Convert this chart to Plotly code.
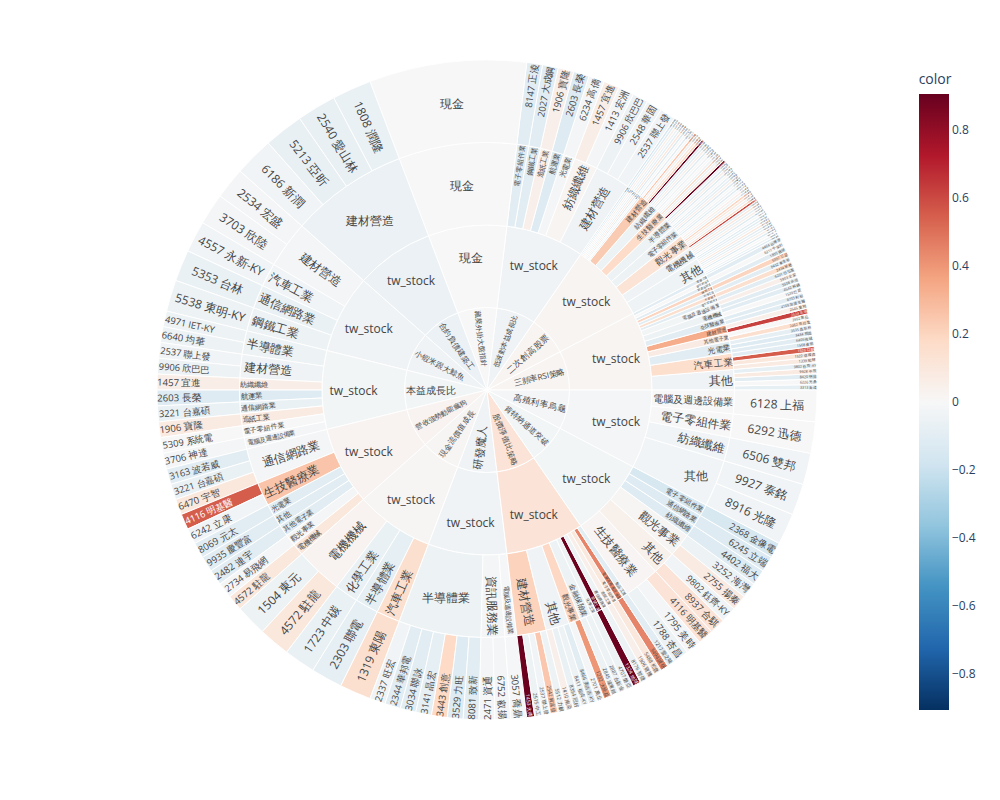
import plotly.graph_objects as go

# ---------------- data ----------------
strategies = ["三頻率RSI策略", "二次創高股票", "低波動本益成長比", "藏獒外掛大盤指針",
              "合約負債建築工", "小蝦米跟大鯨魚", "本益成長比", "營收強勢動能瘋狗",
              "現金流價值成長", "研發魔人", "股價淨值比策略", "肯特納通道突破", "高殖利率烏龜"]

# 1 三頻率RSI策略
s1_industry = ["其他"] * 5 + ["汽車工業"] * 4 + ["光電業"] * 3 + ["其他電子業"] * 2 + ["建材營造"] * 2 + \
              ["生技醫療業"] * 2 + ["電機機械"] * 2 + ["電腦及週邊設備業"] * 2 + \
              ["電子零組件業", "半導體業", "化學工業", "鋼鐵工業", "貿易百貨業", "通信網路業", "塑膠工業"]
s1_stock = ["3313 斐成", "6226 光鼎", "8420 明揚", "9928 中視", "9802 鈺齊-KY",
            "1339 昭輝", "1522 堤維西", "1526 日馳", "1568 倉佑",
            "6405 悅城", "3434 哲固", "3535 晶彩科",
            "2462 良得電", "3992 勝品",
            "2524 京城", "2545 皇翔",
            "4109 加捷生醫", "6703 軒郁",
            "1539 巨庭", "4542 科嶠",
            "5508 永信", "5903 全家",
            "6201 亞弘電", "2434 統懋", "8432 東生華", "5007 三星", "1805 寶徠", "6217 中探針", "4464 台灣準"]
s1_color = [-0.08, 0.0, -0.1, 0.08, -0.08,
            0.08, 0.1, 0.55, -0.1,
            -0.1, -0.12, -0.08,
            0.15, 0.0,
            0.62, 0.05,
            -0.1, -0.1,
            0.0, -0.1,
            -0.1, 0.05,
            -0.1, 0.15, -0.1, 0.2, -0.1, 0.0, -0.1]

# 2 二次創高股票
s2_industry = ["其他"] * 10 + ["電機機械"] * 7 + ["觀光事業"] * 8 + ["電子零組件業"] * 6 + ["半導體業"] * 6 + \
              ["生技醫療業"] * 6 + ["紡織纖維"] * 6 + ["建材營造"] * 6 + \
              ["光電業", "通信網路業", "食品工業", "化學工業", "鋼鐵工業", "航運業", "塑膠工業", "橡膠工業", "金融保險業"]
s2_stock = ["9904 寶成", "9905 大華", "9907 統一實", "9910 豐泰", "9911 櫻花", "9914 美利達", "9917 中保科",
            "9918 欣天然", "9919 康那香", "9921 巨大",
            "1503 士電", "1506 正道", "1513 中興電", "1514 亞力", "1519 華城", "1530 亞崴", "1560 中砂",
            "2702 華園", "2704 國賓", "2705 六福", "2706 第一店", "2707 晶華", "2712 遠雄來", "2722 夏都", "2727 王品",
            "2308 台達電", "2313 華通", "2316 楠梓電", "2327 國巨", "2328 廣宇", "2355 敬鵬",
            "2302 麗正", "2329 華泰", "2330 台積電", "2338 光罩", "2340 台亞", "2342 茂矽",
            "1701 中化", "1707 葡萄王", "1720 生達", "1731 美吾華", "1733 五鼎", "1734 杏輝",
            "1402 遠東新", "1409 新纖", "1419 新紡", "1434 福懋", "1440 南紡", "1444 力麗",
            "2501 國建", "2504 國產", "2505 國揚", "2506 太設", "2509 全坤建", "2511 太子",
            "3008 大立光", "2332 友訊", "1201 味全", "1708 東鹼", "2002 中鋼", "2605 新興", "1301 台塑",
            "2105 正新", "2880 華南金"]
s2_color = [-0.1, -0.05, 0.0, -0.12, 0.05, -0.08, -0.1, 0.1, -0.05, -0.1,
            -0.1, 0.0, -0.12, 0.05, -0.08, 0.1, -0.1,
            0.6, 0.15, -0.05, 0.1, 0.2, -0.05, 0.05, 0.0,
            -0.1, -0.05, 0.0, -0.12, 0.05, -0.08,
            -0.08, 0.0, -0.1, 0.05, -0.12, -0.05,
            0.9, 0.1, -0.05, 0.15, -0.05, 0.0,
            -0.05, 0.0, -0.1, 0.05, -0.08, -0.1,
            0.9, 0.2, 0.1, -0.05, 0.25, 0.0,
            -0.1, 0.0, -0.12, 0.1, -0.08, -0.05, 0.05, -0.1, -0.15]

# 3 低波動本益成長比
s3_industry = ["建材營造"] * 3 + ["紡織纖維"] * 2 + ["光電業", "航運業", "造紙工業", "鋼鐵工業", "電子零組件業"]
s3_stock = ["2537 聯上發", "2548 華固", "9906 欣巴巴", "1413 宏洲", "1457 宜進",
            "6234 高僑", "2603 長榮", "1906 寶隆", "2027 大成鋼", "8147 正淩"]
s3_color = [-0.03, -0.03, -0.05, -0.02, 0.06, -0.02, -0.12, 0.05, -0.1, -0.1]

# 4 藏獒外掛大盤指針 (cash)
s4_industry = ["現金"]
s4_stock = ["現金"]
s4_color = [0.0]

# 5 合約負債建築工
s5_industry = ["建材營造"] * 4
s5_stock = ["1808 潤隆", "2540 愛山林", "5213 亞昕", "6186 新潤"]
s5_color = [-0.06, -0.07, -0.07, -0.03]

# 6 小蝦米跟大鯨魚
s6_industry = ["建材營造"] * 2 + ["汽車工業", "通信網路業", "鋼鐵工業"]
s6_stock = ["2534 宏盛", "3703 欣陸", "4557 永新-KY", "5353 台林", "5538 東明-KY"]
s6_color = [-0.02, -0.02, -0.03, -0.06, -0.05]

# 7 本益成長比
s7_industry = ["半導體業"] * 2 + ["建材營造"] * 2 + ["紡織纖維", "航運業", "通信網路業", "造紙工業",
                                                   "電子零組件業", "電腦及週邊設備業"]
s7_stock = ["4971 IET-KY", "6640 均華", "2537 聯上發", "9906 欣巴巴", "1457 宜進",
            "2603 長榮", "3221 台嘉碩", "1906 寶隆", "5309 系統電", "3706 神達"]
s7_color = [-0.05, -0.05, -0.03, -0.05, 0.06, -0.12, -0.06, 0.08, 0.0, -0.02]

# 8 營收強勢動能瘋狗
s8_industry = ["通信網路業"] * 3 + ["生技醫療業"] * 2 + ["光電業", "其他", "其他電子業", "觀光事業", "電機機械"]
s8_stock = ["3163 波若威", "3221 台嘉碩", "6470 宇智", "4116 明基醫", "6242 立康",
            "8069 元太", "9935 慶豐富", "2482 連宇", "2734 易飛網", "4572 駐龍"]
s8_color = [-0.1, -0.06, 0.1, 0.55, -0.03, -0.1, -0.1, -0.1, -0.02, 0.1]

# 9 現金流價值成長
s9_industry = ["電機機械"] * 2 + ["化學工業", "半導體業", "汽車工業"]
s9_stock = ["1504 東元", "4572 駐龍", "1723 中碳", "2303 聯電", "1319 東陽"]
s9_color = [-0.05, 0.1, -0.06, -0.08, 0.15]

# 10 研發魔人
s10_industry = ["半導體業"] * 7 + ["資訊服務業"] * 2 + ["電腦及週邊設備業"]
s10_stock = ["2337 旺宏", "2344 華邦電", "3034 聯詠", "3141 晶宏", "3443 創意", "3529 力旺",
             "8081 致新", "2471 資通", "6752 叡揚", "3057 喬鼎"]
s10_color = [-0.03, -0.1, -0.1, -0.08, 0.18, -0.12, -0.1, -0.02, -0.02, -0.01]

# 11 股價淨值比策略
s11_industry = ["建材營造"] * 5 + ["其他"] * 4 + ["觀光事業"] * 2 + ["金融保險業"] * 2 + \
               ["化學工業", "塑膠工業", "通信網路業", "造紙工業", "電子零組件業", "電腦及週邊設備業", "食品工業"]
s11_stock = ["1453 大將", "2515 中工", "2537 聯上發", "2542 興富發", "5512 力麒",
             "1410 南染", "8354 冠好", "8411 福貞-KY", "8466 美吉吉-KY",
             "2701 萬企", "1232 大統益", "2845 遠東銀", "2887 台新金",
             "4707 磐亞", "1324 地球", "8176 智捷", "1906 寶隆", "5488 松普", "3494 誠研", "1217 愛之味"]
s11_color = [0.9, -0.05, -0.03, 0.25, -0.05,
             0.05, -0.06, -0.05, -0.1,
             -0.02, 0.4, -0.05, -0.05,
             -0.05, 0.9, -0.05, 0.05, 0.1, 0.45, -0.1]

# 12 肯特納通道突破
s12_industry = ["生技醫療業"] * 3 + ["其他"] * 2 + ["觀光事業"] * 2 + ["紡織纖維", "通信網路業", "電子零組件業"]
s12_stock = ["1788 杏昌", "1795 美時", "4116 明基醫", "8937 合騏", "9802 鈺齊-KY",
             "2755 揚秦", "3252 海灣", "4402 福大", "6245 立端", "2368 金像電"]
s12_color = [-0.05, -0.02, 0.12, 0.12, -0.03, 0.08, -0.05, -0.12, -0.12, -0.15]

# 13 高殖利率烏龜
s13_industry = ["其他"] * 2 + ["紡織纖維", "電子零組件業", "電腦及週邊設備業"]
s13_stock = ["8916 光隆", "9927 泰銘", "6506 雙邦", "6292 迅德", "6128 上福"]
s13_color = [-0.03, -0.03, -0.03, 0.0, 0.0]

holdings = [
    (s1_industry, s1_stock, s1_color), (s2_industry, s2_stock, s2_color),
    (s3_industry, s3_stock, s3_color), (s4_industry, s4_stock, s4_color),
    (s5_industry, s5_stock, s5_color), (s6_industry, s6_stock, s6_color),
    (s7_industry, s7_stock, s7_color), (s8_industry, s8_stock, s8_color),
    (s9_industry, s9_stock, s9_color), (s10_industry, s10_stock, s10_color),
    (s11_industry, s11_stock, s11_color), (s12_industry, s12_stock, s12_color),
    (s13_industry, s13_stock, s13_color),
]
color_limit = 0.906

# ---------------- build hierarchy ----------------
nodes = {}
order = []


def touch(node_id, label, parent, w, c):
    if node_id not in nodes:
        nodes[node_id] = [label, parent, 0.0, 0.0, False]
        order.append(node_id)
    nodes[node_id][2] += w
    nodes[node_id][3] += w * c


for strat, (inds, stocks, cols) in zip(strategies, holdings):
    w = 1.0 / len(stocks)  # equal-weight portfolio
    for ind, st, c in zip(inds, stocks, cols):
        market = "現金" if st == "現金" else "tw_stock"
        p1 = strat
        p2 = f"{strat}/{market}"
        p3 = f"{p2}/{ind}"
        p4 = f"{p3}/{st}"
        touch(p1, strat, "", w, c)
        touch(p2, market, p1, w, c)
        touch(p3, ind, p2, w, c)
        touch(p4, st, p3, w, c)
        nodes[p4][4] = True

ids = order
labels = [nodes[i][0] for i in ids]
parents = [nodes[i][1] for i in ids]
values = [nodes[i][2] if nodes[i][4] else 0 for i in ids]
colors = [nodes[i][3] / nodes[i][2] for i in ids]

fig = go.Figure(go.Sunburst(
    ids=ids, labels=labels, parents=parents, values=values,
    branchvalues="remainder", sort=False,
    marker=dict(colors=colors, coloraxis="coloraxis"),
    hovertemplate="%{label}<br>color=%{color:.3f}<extra></extra>",
))
# page body has an 8px margin, so the figure is 984x784 and margins are offset
fig.update_layout(
    width=984, height=784,
    margin=dict(t=52, l=72, r=98, b=72, autoexpand=False),
    coloraxis=dict(colorscale="RdBu_r", cmin=-color_limit, cmax=color_limit,
                   colorbar=dict(title=dict(text="color"), x=1.018, len=1.0)),
)
fig.write_html("out.html")
